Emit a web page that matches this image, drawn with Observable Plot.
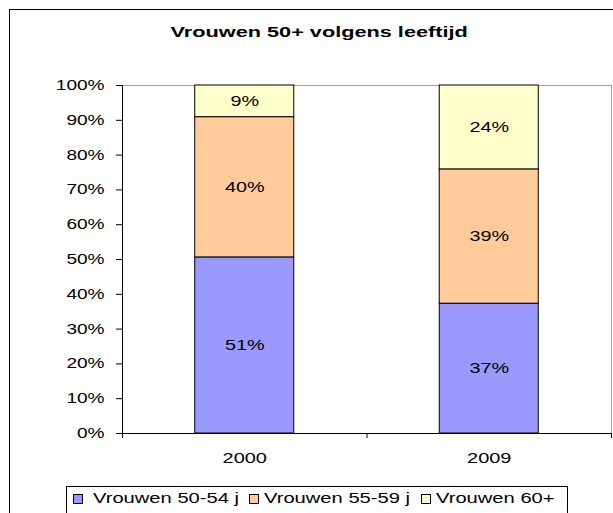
<!DOCTYPE html>
<html>
<head>
<meta charset="utf-8">
<script src="https://cdn.jsdelivr.net/npm/d3@7"></script>
<script src="https://cdn.jsdelivr.net/npm/@observablehq/plot@0.6"></script>
<style>
  html, body { margin: 0; padding: 0; background: #fff; }
  #wrap { position: relative; width: 613px; height: 513px; overflow: hidden;
          font-family: 'Liberation Sans', Arial, sans-serif; color: #000; }
  #border { position: absolute; left: 9px; top: 9px; width: 700px; height: 700px;
            border-left: 1px solid #000; border-top: 1px solid #000; }
  #chart { position: absolute; left: 0; top: 0; }
  #title { position: absolute; left: 0; width: 638px; top: 22px; line-height: 20px;
           font-size: 15.5px; font-weight: bold; text-align: center; white-space: nowrap; }
  #title span { display: inline-block; transform: scaleX(1.4); transform-origin: center; }
  #legendBox { position: absolute; left: 66px; top: 486px; width: 500px; height: 60px;
               border: 1px solid #000; }
  .sw { position: absolute; top: 494px; width: 8px; height: 8px; border: 1px solid #000; }
  .lt { position: absolute; top: 490px; line-height: 16px; font-size: 15.5px; white-space: nowrap;
        transform: scaleX(1.3); transform-origin: left center; }
</style>
</head>
<body>
<div id="wrap">
  <div id="border"></div>
  <div id="chart"></div>
  <div id="title"><span>Vrouwen 50+ volgens leeftijd</span></div>
  <div id="legendBox"></div>
  <div id="legend"></div>
</div>
<script>
// ---- data ----
const years = ["2000", "2009"];
const groups = ["Vrouwen 50-54 j", "Vrouwen 55-59 j", "Vrouwen 60+"];
const share2000 = [0.506, 0.403, 0.091];
const share2009 = [0.373, 0.386, 0.241];
const colors = ["#9999FF", "#FFCC99", "#FFFFCC"];
const yTicks = [0, 0.1, 0.2, 0.3, 0.4, 0.5, 0.6, 0.7, 0.8, 0.9, 1.0];

// ---- layout constants ----
const BAR_HALF = 0.2025; // half bar width in category units
const sharesByYear = [share2000, share2009];

const rows = years.flatMap((year, i) =>
  sharesByYear[i].map((v, j) => ({year, i, group: groups[j], value: v}))
);
const boundaries = d3.range(years.length + 1);
const centers = years.map((_, i) => i + 0.5);

const plot = Plot.plot({
  width: 613,
  height: 513,
  marginLeft: 122,
  marginRight: 2,
  marginTop: 85,
  marginBottom: 80,
  style: {fontFamily: "'Liberation Sans', Arial, sans-serif", color: "#000", background: "transparent", overflow: "visible"},
  x: {domain: [0, years.length], label: null},
  y: {domain: [0, 1], label: null},
  color: {domain: groups, range: colors},
  marks: [
    Plot.frame({stroke: "#a0a0a0"}),
    Plot.rectY(rows, Plot.stackY({
      x1: d => d.i + 0.5 - BAR_HALF,
      x2: d => d.i + 0.5 + BAR_HALF,
      y: "value",
      fill: "group",
      stroke: "#000",
      strokeWidth: 1
    })),
    Plot.text(rows, Plot.stackY({
      x: d => d.i + 0.5,
      y: "value",
      text: d => Math.round(d.value * 100) + "%",
      fontSize: 15,
      fill: "#000"
    })),
    Plot.ruleX([0], {stroke: "#000"}),
    Plot.ruleY([0], {stroke: "#000"}),
    Plot.axisY({ticks: yTicks, tickFormat: d3.format(".0%"), tickSize: 6, tickPadding: 12, fontSize: 14}),
    Plot.axisX({ticks: boundaries, tickSize: 5, tickFormat: () => ""}),
    Plot.axisX({ticks: centers, tickSize: 0, tickPadding: 19, tickFormat: v => years[Math.round(v - 0.5)], fontSize: 15})
  ]
});
document.getElementById("chart").appendChild(plot);

// horizontal stretch of the text, as in the reference
function stretch(selector, k) {
  plot.querySelectorAll(selector).forEach(t => {
    if (!t.textContent) return;
    const b = t.getBBox();
    const anchor = getComputedStyle(t).textAnchor;
    const ax = anchor === "end" ? b.x + b.width : anchor === "middle" ? b.x + b.width / 2 : b.x;
    const prev = t.getAttribute("transform") || "";
    t.setAttribute("transform", `${prev} translate(${ax},0) scale(${k},1) translate(${-ax},0)`);
  });
}
stretch('g[aria-label="y-axis tick label"] text', 1.36);
stretch('g[aria-label="x-axis tick label"] text', 1.33);
stretch('g[aria-label="text"] text', 1.32);

// legend
const swatchX = [73, 249, 421];
const textX = [93, 264, 436];
const legend = document.getElementById("legend");
groups.forEach((g, j) => {
  const sw = document.createElement("div");
  sw.className = "sw";
  sw.style.left = swatchX[j] + "px";
  sw.style.background = colors[j];
  legend.appendChild(sw);
  const t = document.createElement("span");
  t.className = "lt";
  t.style.left = textX[j] + "px";
  t.textContent = g;
  legend.appendChild(t);
});
</script>
</body>
</html>
